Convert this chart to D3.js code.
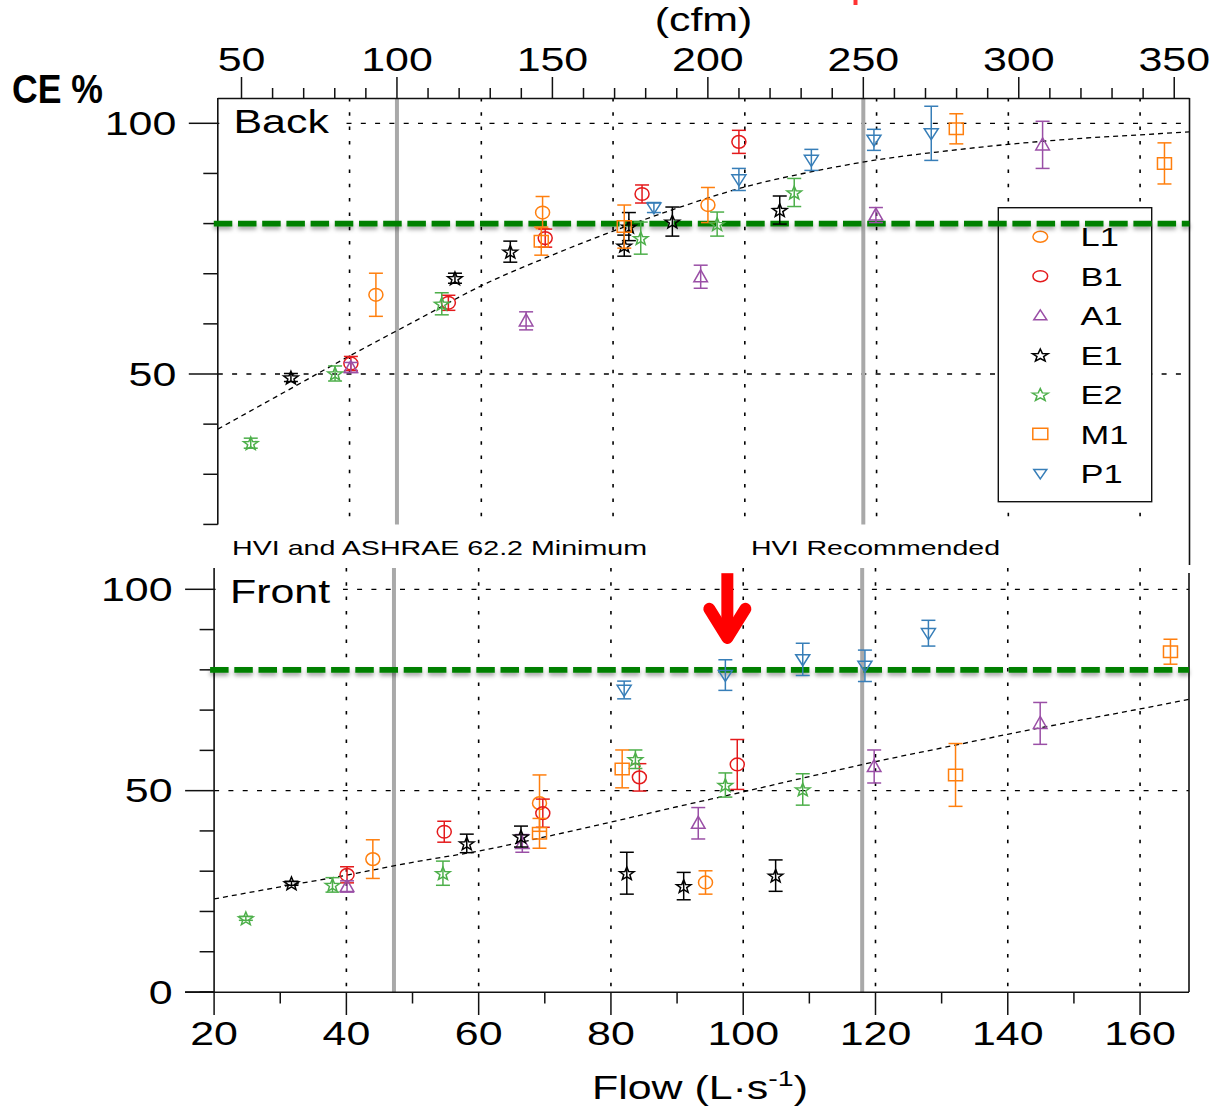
<!DOCTYPE html>
<html><head><meta charset="utf-8">
<script src="https://cdn.jsdelivr.net/npm/d3@7"></script>
<style>
html,body{margin:0;padding:0;background:#fff;}
svg{display:block;}
text{font-family:"Liberation Sans",Arial,Helvetica,sans-serif;fill:#000;}
</style></head><body>
<svg id="chart" width="1210" height="1106"></svg>
<script>
// ---------------- DATA (flow L/s, CE %, ± error) ----------------
const seriesNames = ["L1","B1","A1","E1","E2","M1","P1"];

const backL1 = [[44.0,65.8,4.3],[69.3,82.2,3.2],[94.4,83.7,3.5]];
const backB1 = [[40.2,52.1,1.4],[55.0,64.2,1.5],[69.7,77.1,1.8],[84.4,85.9,1.8],[99.1,96.3,2.3]];
const backA1 = [[40.2,51.3,1.0],[66.8,60.6,1.8],[93.3,69.4,2.3],[119.9,81.7,1.5],[145.2,95.7,4.7]];
const backE1 = [[31.1,49.3,0.8],[56.0,69.1,1.0],[64.4,74.4,2.1],[81.7,75.6,2.1],[82.4,79.4,2.8],[89.0,80.4,2.9],[105.3,82.7,2.8]];
const backE2 = [[25.0,36.2,1.0],[37.8,50.1,1.5],[54.0,64.0,2.2],[84.2,77.1,3.2],[95.8,79.9,2.4],[107.5,86.2,2.8]];
const backM1 = [[69.1,76.5,2.8],[81.7,79.4,4.3],[132.1,98.9,3.0],[163.7,92.0,4.1]];
const backP1 = [[86.2,83.2,1.0],[99.1,88.8,2.2],[110.1,92.7,2.1],[119.6,96.7,2.1],[128.3,98.0,5.4]];

const frontL1 = [[44.0,33.0,4.8],[69.2,46.9,7.0],[94.3,27.2,2.9]];
const frontB1 = [[40.1,29.1,2.0],[54.8,39.8,2.6],[69.7,44.4,3.5],[84.3,53.3,3.4],[99.1,56.5,6.2]];
const frontA1 = [[40.1,26.2,1.4],[66.6,36.9,2.2],[93.2,41.9,3.9],[119.8,56.0,4.1],[144.9,66.7,5.2]];
const frontE1 = [[31.7,27.0,0.5],[58.2,36.9,2.3],[66.4,38.6,2.6],[82.4,29.5,5.2],[91.0,26.3,3.4],[104.9,28.9,3.9]];
const frontE2 = [[24.8,18.3,0.5],[37.9,26.6,1.8],[54.6,29.5,3.0],[83.7,57.8,2.3],[97.3,51.4,3.0],[109.0,50.3,3.9]];
const frontM1 = [[69.2,39.4,3.7],[81.7,55.4,4.7],[132.1,53.9,7.8],[164.6,84.5,3.1]];
const frontP1 = [[82.0,75.0,2.2],[97.3,78.7,3.8],[109.0,82.6,4.0],[118.4,81.0,3.9],[128.0,89.1,3.2]];

// fitted curves (flow L/s, CE %)
const backFit  = [[20,39.0],[30,46.3],[40,53.6],[50,60.6],[60,67.6],[70,73.3],[80,78.5],[90,83.2],[100,87.3],[110,90.3],[120,92.7],[130,94.4],[140,95.8],[150,96.9],[160,97.7],[167.5,98.3]];
const frontFit = [[20,23.1],[30,26.1],[40,29.0],[50,32.2],[60,35.0],[70,38.5],[80,42.2],[90,46.0],[100,49.7],[110,53.5],[120,57.2],[130,60.6],[140,64.0],[150,67.2],[160,70.3],[167.4,72.7]];

// ticks / reference values
const flowTicks = [20,40,60,80,100,120,140,160];
const flowMinor = [30,50,70,90,110,130,150];
const cfmTicks  = [50,100,150,200,250,300,350];
const cfmMinor  = [60,70,80,90,110,120,130,140,160,170,180,190,210,220,230,240,260,270,280,290,310,320,330,340];
const ceMajor   = [50,100];
const ceMinorTop = [20,30,40,60,70,80,90];
const ceMinorBot = [0,10,20,30,40,60,70,80,90];
const ceMajorBot = [0,50,100];
const refCfm   = [100,250];           // HVI / ASHRAE minimum, HVI recommended
const refLabels = ["HVI and ASHRAE 62.2 Minimum","HVI Recommended"];
const targetCE = 80;
const LPS_TO_CFM = 2.11888;
const arrowAt = [97.6, 104.0, 86.2];  // flow, top CE, tip CE (front panel)

// ---------------- STYLE ----------------
const colors = {L1:"#ff7f0e",B1:"#e41a1c",A1:"#9a4fa6",E1:"#000000",E2:"#4daf4a",M1:"#ff7f0e",P1:"#377eb8"};
const shapes = {L1:"circle",B1:"circle",A1:"tri",E1:"star",E2:"star",M1:"square",P1:"dtri"};
const plotSize = {circle:[14,12.7],tri:[13.6,12],dtri:[14,11],square:[14,11.5],star:[14.5,12.5]};
const legSize  = {circle:[14.7,11],tri:[13,10],dtri:[13,9.5],square:[15,11.3],star:[15.7,12]};
const SX = 1.3;

const svg = d3.select("#chart");
const defs = svg.append("defs");
const f = defs.append("filter").attr("id","sh").attr("filterUnits","userSpaceOnUse")
  .attr("x",0).attr("y",0).attr("width",1210).attr("height",1106);
f.append("feDropShadow").attr("dx",0).attr("dy",3).attr("stdDeviation",2)
  .attr("flood-color","#000").attr("flood-opacity",0.35);

function markerPath(type,w,h){
  if(type==="circle"){const rx=w/2,ry=h/2;return `M${-rx},0A${rx},${ry} 0 1 0 ${rx},0A${rx},${ry} 0 1 0 ${-rx},0Z`;}
  if(type==="tri") return `M0,${-h*0.58}L${w/2},${h*0.42}L${-w/2},${h*0.42}Z`;
  if(type==="dtri") return `M0,${h*0.58}L${w/2},${-h*0.42}L${-w/2},${-h*0.42}Z`;
  if(type==="square") return `M${-w/2},${-h/2}h${w}v${h}h${-w}Z`;
  const pts=[];
  for(let i=0;i<10;i++){const a=(-90+i*36)*Math.PI/180, r=i%2?0.42:1;
    pts.push([Math.cos(a)*r*w/1.902, (Math.sin(a)*r+0.095)*h/1.809]);}
  return "M"+pts.map(p=>p[0].toFixed(2)+","+p[1].toFixed(2)).join("L")+"Z";
}
function stext(g,x,y,str,size,anchor,sx){
  return g.append("g").attr("transform",`translate(${x},${y}) scale(${sx||SX},1)`)
    .append("text").attr("font-size",size).attr("text-anchor",anchor||"start").text(str);
}

// ---------------- SCALES ----------------
const xTop = d3.scaleLinear().domain([20,167.5]).range([217.8,1189.5]);
const xBot = d3.scaleLinear().domain([20,167.4]).range([214.1,1189]);
const yTop = d3.scaleLinear().domain([50,100]).range([374,123.3]);
const yBot = d3.scaleLinear().domain([0,100]).range([992,589.3]);
const cfm  = d3.scaleLinear().domain(xTop.domain().map(v=>v*LPS_TO_CFM)).range(xTop.range());

const panels = [
  {x:xTop,y:yTop,yMin:20,topPx:98,rightBottom:565,label:"Back",lx:233.5,ly:132.7,boxY:[100,141],
   data:{L1:backL1,B1:backB1,A1:backA1,E1:backE1,E2:backE2,M1:backM1,P1:backP1},fit:backFit,
   majors:ceMajor,minors:ceMinorTop},
  {x:xBot,y:yBot,yMin:0,topPx:568,rightTop:573,label:"Front",lx:230,ly:602.7,boxY:[572,610],
   data:{L1:frontL1,B1:frontB1,A1:frontA1,E1:frontE1,E2:frontE2,M1:frontM1,P1:frontP1},fit:frontFit,
   majors:ceMajorBot,minors:ceMinorBot}
];

function drawPanel(p,idx){
  const g = svg.append("g");
  const x0=p.x(20), x1=p.x.range()[1], yT=p.topPx, yB=p.y(p.yMin);
  // dashed horizontal grid
  g.selectAll(null).data([50,100]).join("line")
    .attr("x1",x0).attr("x2",x1).attr("y1",d=>p.y(d)).attr("y2",d=>p.y(d))
    .attr("stroke","#000").attr("stroke-width",1.3).attr("stroke-dasharray","5,9.3");
  // white box behind the panel title
  g.append("rect").attr("x",x0+1.5).attr("y",p.boxY[0]).attr("width",p.x(40)-x0-5).attr("height",p.boxY[1]-p.boxY[0]).attr("fill","#fff");
  // dotted vertical grid
  g.selectAll(null).data(flowTicks.slice(1)).join("line")
    .attr("x1",d=>p.x(d)).attr("x2",d=>p.x(d)).attr("y1",yT).attr("y2",yB)
    .attr("stroke","#000").attr("stroke-width",1.6).attr("stroke-dasharray","3.5,10.8");
  // grey reference lines
  g.selectAll(null).data(refCfm).join("line")
    .attr("x1",d=>p.x(d/LPS_TO_CFM)).attr("x2",d=>p.x(d/LPS_TO_CFM)).attr("y1",yT).attr("y2",yB)
    .attr("stroke","#a9a9a9").attr("stroke-width",4);
  // fitted curve
  g.append("path").datum(p.fit)
    .attr("d",d3.line().x(d=>p.x(d[0])).y(d=>p.y(d[1])).curve(d3.curveMonotoneX))
    .attr("fill","none").attr("stroke","#000").attr("stroke-width",1.3).attr("stroke-dasharray","5,4");
  // left axis
  g.append("line").attr("x1",x0).attr("x2",x0).attr("y1",yT).attr("y2",yB).attr("stroke","#111").attr("stroke-width",1.6);
  g.selectAll(null).data(p.majors).join("line")
    .attr("x1",x0-29).attr("x2",x0).attr("y1",d=>p.y(d)).attr("y2",d=>p.y(d)).attr("stroke","#111").attr("stroke-width",1.5);
  g.selectAll(null).data(p.minors).join("line")
    .attr("x1",x0-14.5).attr("x2",x0).attr("y1",d=>p.y(d)).attr("y2",d=>p.y(d)).attr("stroke","#111").attr("stroke-width",1.5);
  p.majors.forEach(v=>stext(g,x0-41.5,p.y(v)+11.8,String(v),33,"end"));
  // right border
  if(idx===0) g.append("line").attr("x1",x1).attr("x2",x1).attr("y1",yT).attr("y2",p.rightBottom).attr("stroke","#111").attr("stroke-width",1.6);
  else g.append("line").attr("x1",x1).attr("x2",x1).attr("y1",p.rightTop).attr("y2",yB).attr("stroke","#111").attr("stroke-width",1.6);
  // panel title
  stext(g,p.lx,p.ly,p.label,33,"start");
  return g;
}
function drawTarget(p){
  svg.append("line").attr("x1",p.x(20)-4).attr("x2",p.x.range()[1]).attr("y1",p.y(targetCE)).attr("y2",p.y(targetCE))
    .attr("stroke","#008000").attr("stroke-width",5.7).attr("stroke-dasharray","18.5,5.7").attr("filter","url(#sh)");
}
function drawData(p){
  const g = svg.append("g");
  seriesNames.forEach(n=>{
    const c=colors[n], sh=shapes[n], sz=plotSize[sh];
    const s = g.append("g").attr("stroke",c).attr("stroke-width",1.5).attr("fill","none");
    const pts = p.data[n];
    s.selectAll(null).data(pts).join("line").attr("x1",d=>p.x(d[0])).attr("x2",d=>p.x(d[0]))
      .attr("y1",d=>p.y(d[1]-d[2])).attr("y2",d=>p.y(d[1]+d[2]));
    s.selectAll(null).data(pts).join("line").attr("x1",d=>p.x(d[0])-7).attr("x2",d=>p.x(d[0])+7)
      .attr("y1",d=>p.y(d[1]+d[2])).attr("y2",d=>p.y(d[1]+d[2]));
    s.selectAll(null).data(pts).join("line").attr("x1",d=>p.x(d[0])-7).attr("x2",d=>p.x(d[0])+7)
      .attr("y1",d=>p.y(d[1]-d[2])).attr("y2",d=>p.y(d[1]-d[2]));
    s.selectAll(null).data(pts).join("path").attr("d",markerPath(sh,sz[0],sz[1]))
      .attr("transform",d=>`translate(${p.x(d[0])},${p.y(d[1])})`);
  });
}

drawPanel(panels[0],0);
drawPanel(panels[1],1);

// top cfm axis
const ax = svg.append("g");
ax.append("line").attr("x1",xTop(20)).attr("x2",xTop.range()[1]).attr("y1",98.5).attr("y2",98.5).attr("stroke","#111").attr("stroke-width",1.6);
ax.selectAll(null).data(cfmTicks).join("line").attr("x1",d=>cfm(d)).attr("x2",d=>cfm(d)).attr("y1",98.5).attr("y2",77)
  .attr("stroke","#111").attr("stroke-width",1.5);
ax.selectAll(null).data(cfmMinor).join("line").attr("x1",d=>cfm(d)).attr("x2",d=>cfm(d)).attr("y1",98.5).attr("y2",88)
  .attr("stroke","#111").attr("stroke-width",1.5);
cfmTicks.forEach(v=>stext(ax,cfm(v),71,String(v),33,"middle"));
stext(ax,703.5,31,"(cfm)",33,"middle");

// bottom flow axis
const bx = svg.append("g");
bx.append("line").attr("x1",185).attr("x2",xBot.range()[1]).attr("y1",992.3).attr("y2",992.3).attr("stroke","#111").attr("stroke-width",1.6);
bx.selectAll(null).data(flowTicks).join("line").attr("x1",d=>xBot(d)).attr("x2",d=>xBot(d)).attr("y1",992.3).attr("y2",1015)
  .attr("stroke","#111").attr("stroke-width",1.5);
bx.selectAll(null).data(flowMinor).join("line").attr("x1",d=>xBot(d)).attr("x2",d=>xBot(d)).attr("y1",992.3).attr("y2",1003.5)
  .attr("stroke","#111").attr("stroke-width",1.5);
flowTicks.forEach(v=>stext(bx,xBot(v),1045,String(v),33,"middle"));
const ft = stext(bx,700,1099,"",33,"middle");
ft.append("tspan").text("Flow (L\u00b7s");
ft.append("tspan").attr("font-size",22).attr("dy",-13).text("-1");
ft.append("tspan").attr("dy",13).text(")");

// y title
svg.append("text").attr("x",12).attr("y",103).attr("font-family","'Open Sans',sans-serif").attr("font-weight",700)
  .attr("font-size",41).attr("textLength",91).attr("lengthAdjust","spacingAndGlyphs").text("CE %");

// reference line labels
svg.append("text").attr("x",232).attr("y",554.5).attr("font-size",21).attr("textLength",415).attr("lengthAdjust","spacingAndGlyphs").text(refLabels[0]);
svg.append("text").attr("x",751).attr("y",554.5).attr("font-size",21).attr("textLength",249).attr("lengthAdjust","spacingAndGlyphs").text(refLabels[1]);

// legend
const lg = svg.append("g");
lg.append("rect").attr("x",998.3).attr("y",207.7).attr("width",153.4).attr("height",294).attr("fill","#fff").attr("stroke","#111").attr("stroke-width",1.4);
seriesNames.forEach((n,i)=>{
  const cy = 236.7 + i*39.45, sh=shapes[n], sz=legSize[sh];
  lg.append("path").attr("d",markerPath(sh,sz[0],sz[1])).attr("transform",`translate(1040.3,${cy})`)
    .attr("fill","none").attr("stroke",colors[n]).attr("stroke-width",1.5);
  stext(lg,1080.5,cy+9.6,n,26.5,"start");
});

// target lines and data
drawTarget(panels[0]);
drawTarget(panels[1]);
drawData(panels[0]);
drawData(panels[1]);

// red annotation arrow
const axp = xBot(arrowAt[0]), ay0 = yBot(arrowAt[1]), ay1 = yBot(arrowAt[2]);
svg.append("line").attr("x1",axp).attr("x2",axp).attr("y1",ay0).attr("y2",ay1-8).attr("stroke","#ff0000").attr("stroke-width",12);
svg.append("path").attr("d",`M${axp-18},${ay1-36}L${axp},${ay1-7}L${axp+18},${ay1-36}`)
  .attr("fill","none").attr("stroke","#ff0000").attr("stroke-width",12).attr("stroke-linecap","round").attr("stroke-linejoin","round");
svg.append("rect").attr("x",xTop(116.8)-2).attr("y",0).attr("width",4).attr("height",5).attr("fill","#ff0000").attr("opacity",0.8);
</script>
</body></html>
